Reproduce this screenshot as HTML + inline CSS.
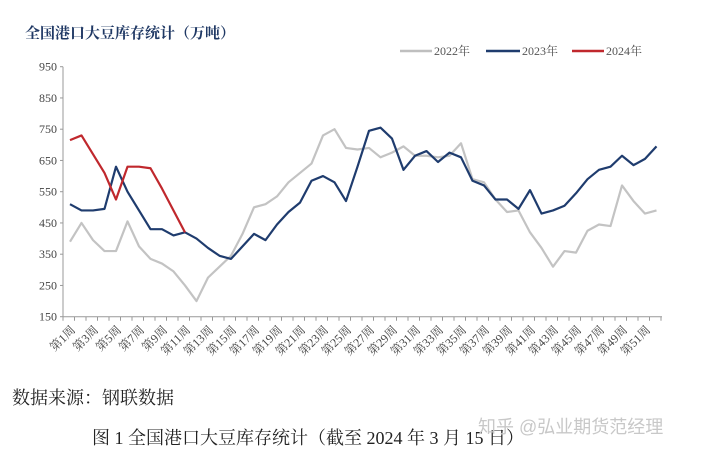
<!DOCTYPE html>
<html><head><meta charset="utf-8"><style>
body{margin:0;background:#fff;width:701px;height:453px;overflow:hidden;font-family:"Liberation Serif","Noto Serif CJK SC",serif}
</style></head><body>
<svg width="701" height="453" style="position:absolute;left:0;top:0">
<text x="25" y="38" font-size="15" font-weight="bold" fill="#1f3864" font-family="'Liberation Serif','Noto Serif CJK SC',serif">全国港口大豆库存统计（万吨）</text>
<g id="legend" font-size="12" fill="#555">
<line x1="400" y1="51" x2="432" y2="51" stroke="#bfbfbf" stroke-width="2.5"/>
<text x="434" y="55">2022年</text>
<line x1="486" y1="51" x2="520" y2="51" stroke="#1f3c6e" stroke-width="2.5"/>
<text x="522" y="55">2023年</text>
<line x1="572" y1="51" x2="604" y2="51" stroke="#c0282d" stroke-width="2.5"/>
<text x="606" y="55">2024年</text>
</g>
<g id="axes"></g>
<g id="series"></g>
<text x="12" y="404" font-size="18" fill="#222">数据来源：钢联数据</text>
<text x="92" y="444" font-size="18" fill="#222">图 1  全国港口大豆库存统计（截至 2024 年 3 月 15 日）</text>
<text x="478" y="433" font-size="18" fill="#c8c8c8" font-family="'Liberation Sans','Noto Sans CJK SC',sans-serif">知乎 @弘业期货范经理</text>
</svg>
<script>
const yTicks=[150,250,350,450,550,650,750,850,950];
const weeks=Array.from({length:52},(_,i)=>i+1);
const s2022=[390,450,395,360,360,455,375,335,320,295,250,200,275,310,345,415,500,510,535,580,610,640,730,750,690,685,690,660,675,695,665,665,660,665,705,590,580,525,485,490,420,370,310,360,355,425,445,440,570,520,480,490];
const s2023=[510,490,490,495,630,550,490,430,430,410,420,400,370,345,335,375,415,395,445,485,515,585,600,580,520,630,745,755,720,620,665,680,645,675,660,585,570,525,525,495,555,480,490,505,545,590,620,630,665,635,655,695];
const s2024=[715,730,670,610,525,630,630,625,560,490,420];
const X0=63,X1=662;
const xs=w=>70+(w-1)*11.5;
const ys=v=>66.7+(950-v)/800*250;
const NS="http://www.w3.org/2000/svg";
const ax=document.getElementById('axes');
function mk(t,a,p){const e=document.createElementNS(NS,t);for(const k in a)e.setAttribute(k,a[k]);p.appendChild(e);return e;}
let l=mk('line',{x1:X0,y1:ys(950),x2:X0,y2:ys(150),stroke:'#999','stroke-width':1},ax);


l=mk('line',{x1:X0,y1:ys(150),x2:X1,y2:ys(150),stroke:'#999','stroke-width':1},ax);


yTicks.forEach(v=>{
 const t=mk('text',{x:57,y:ys(v)+4,'font-size':12,'text-anchor':'end',fill:'#444'},ax);t.textContent=v;
 
 
 const k=mk('line',{x1:X0-3,y1:ys(v),x2:X0,y2:ys(v),stroke:'#999'},ax);
 
 
});
for(let i=0;i<=52;i++){
 const x=X0+i*11.5;
 const k=mk('line',{x1:x,y1:ys(150),x2:x,y2:ys(150)+4,stroke:'#999'},ax);
 
 
}
weeks.filter(w=>w%2==1).forEach(w=>{
 const x=xs(w)+6,y=ys(150)+14;
 const t=mk('text',{x:x,y:y,'font-size':12,'text-anchor':'end',fill:'#444',transform:`rotate(-45 ${x} ${y})`},ax);
 t.textContent='第'+w+'周';
 
 
});
const sg=document.getElementById('series');
function line(d,c,n){
 const p=mk('polyline',{points:d.map((v,i)=>xs(weeks[i])+','+ys(v)).join(' '),fill:'none',stroke:c,'stroke-width':2.2,'stroke-linejoin':'round'},sg);
 
 
}
line(s2022,'#c3c3c3','series-2022');
line(s2023,'#1f3c6e','series-2023');
line(s2024,'#c0282d','series-2024');
</script>
</body></html>
